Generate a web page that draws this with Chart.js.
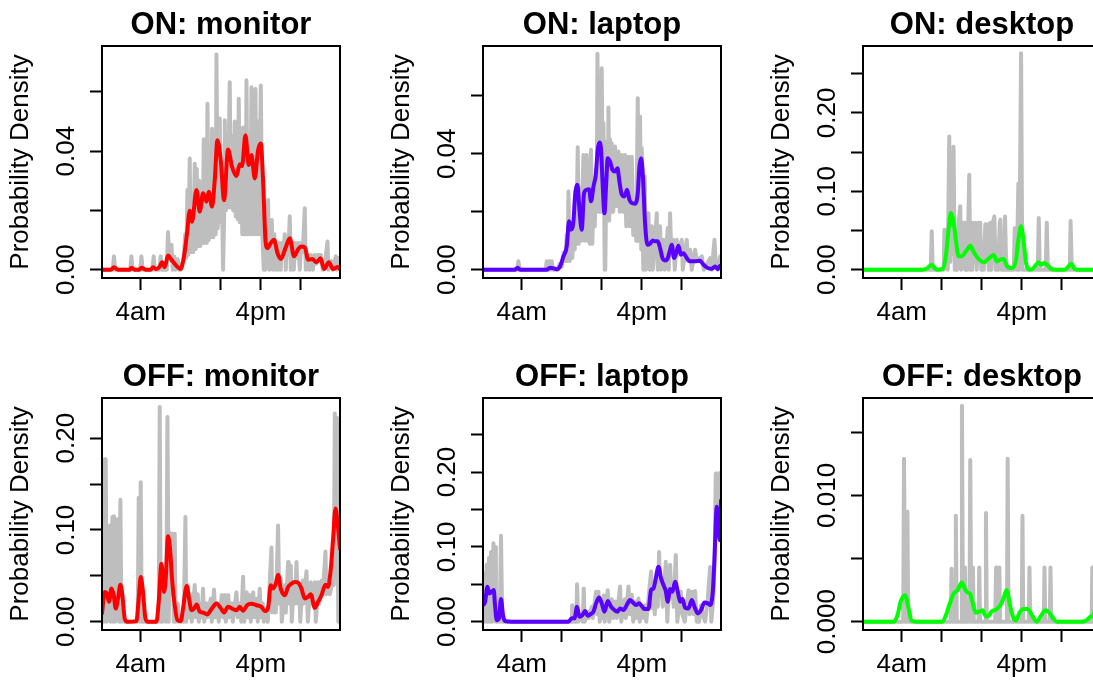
<!DOCTYPE html>
<html>
<head>
<meta charset="utf-8">
<script src="https://cdn.jsdelivr.net/npm/chart.js@4.4.1/dist/chart.umd.min.js"></script>
<style>
html, body { margin: 0; padding: 0; background: #fff; overflow: hidden; width: 1093px; height: 680px; }
.panel { position: absolute; width: 380px; height: 352px; }
</style>
</head>
<body>
<div class="panel" style="left:0;top:0"><canvas id="c0" width="380" height="352"></canvas></div>
<div class="panel" style="left:381px;top:0"><canvas id="c1" width="380" height="352"></canvas></div>
<div class="panel" style="left:761px;top:0"><canvas id="c2" width="380" height="352"></canvas></div>
<div class="panel" style="left:0;top:352px"><canvas id="c3" width="380" height="352"></canvas></div>
<div class="panel" style="left:381px;top:352px"><canvas id="c4" width="380" height="352"></canvas></div>
<div class="panel" style="left:761px;top:352px"><canvas id="c5" width="380" height="352"></canvas></div>
<script>
// hour of day on x, probability density on y
const hourTicks = [4, 8, 12, 16, 20];
const hourLabels = ['4am', '', '', '4pm', ''];

const smallTicks = [0, 0.02, 0.04, 0.06];
const smallLabels = ['0.00', '', '0.04', ''];
const wideTicks = [0, 0.05, 0.10, 0.15, 0.20, 0.25];
const wideLabels = ['0.00', '', '0.10', '', '0.20', ''];
const offMonTicks = [0, 0.05, 0.10, 0.15, 0.20];
const offMonLabels = ['0.00', '', '0.10', '', '0.20'];
const tinyTicks = [0, 0.005, 0.010, 0.015];
const tinyLabels = ['0.000', '', '0.010', ''];

// ---- ON: monitor
const onMonitorRaw = [[0.13,0],[1.2,0],[1.33,0.0045],[1.45,0],[2.95,0],[3.07,0.0045],[3.2,0],[3.95,0],[4.07,0.0045],[4.2,0],[5.15,0],[5.3,0.0045],[5.4,0],[5.85,0],[6.0,0.0045],[6.1,0],[6.6,0],[6.73,0.0127],[6.85,0.0045],[7.07,0.0084],[7.2,0],[7.35,0.0045],[7.5,0],[7.7,0.0035],[7.85,0],[8.0,0],
  [8.3,0.004],[8.45,0.012],[8.55,0.004],[8.67,0.027],[8.75,0.005],[8.9,0.0375],[9.0,0.006],[9.13,0.022],[9.25,0.006],[9.4,0.0358],[9.5,0.007],[9.6,0.034],[9.7,0.008],[9.85,0.03],[9.95,0.008],[10.1,0.025],[10.2,0.009],[10.3,0.044],[10.4,0.009],[10.5,0.03],[10.6,0.009],[10.67,0.056],[10.8,0.01],[10.95,0.035],[11.05,0.011],[11.13,0.0476],[11.25,0.011],[11.4,0.04],[11.5,0.012],[11.57,0.0726],[11.7,0.014],[11.8,0.035],[11.9,0.051],[12.0,0.016],[12.1,0.03],[12.23,0],
  [12.35,0.02],[12.4,0.0504],[12.5,0.02],[12.6,0.04],[12.7,0.021],[12.9,0.0633],[13.0,0.021],[13.15,0.045],[13.25,0.02],[13.4,0.05],[13.5,0.018],[13.65,0.04],[13.7,0.017],[13.8,0.0577],[13.9,0.016],[14.05,0.04],[14.15,0.012],[14.23,0.048],[14.35,0.012],[14.45,0.04],[14.5,0.012],[14.57,0.0639],[14.7,0.012],[14.85,0.045],[14.95,0.012],[15.07,0.0616],[15.2,0.012],[15.3,0.045],[15.4,0.012],[15.47,0.061],[15.6,0.012],[15.75,0.05],[15.85,0.012],[16.0,0.0622],[16.15,0.012],[16.3,0],
  [16.45,0],[16.6,0.015],[16.73,0.0235],[16.85,0],[17.0,0.012],[17.1,0.0168],[17.2,0],[17.35,0.012],[17.5,0],[17.6,0.008],[17.75,0],[17.9,0.009],[18.0,0],[18.1,0.009],[18.25,0.005],[18.4,0.012],[18.5,0],[18.6,0.009],[18.75,0.005],[18.9,0.018],[19.0,0],[19.15,0.009],[19.3,0],[19.45,0.009],[19.6,0.004],[19.75,0.009],[19.9,0],[20.05,0.009],[20.2,0.006],[20.4,0.0207],[20.5,0],[20.7,0.005],[20.85,0],[21.0,0.005],[21.2,0],[21.4,0.005],[21.55,0.002],[21.7,0.005],[22.0,0.005],[22.2,0],[22.4,0.002],[22.67,0.0095],[22.75,0],[23.0,0.003],[23.2,0],[23.5,0.0045],[23.6,0],[23.9,0.0045]];
const onMonitorDensity = [[0.13,0],[1.0,0],[1.33,0.0008],[1.73,0],[2.9,0],[3.07,0.0007],[3.4,0],[3.85,0],[4.07,0.0007],[4.5,0],[5.0,0],[5.23,0.0008],[5.57,0.0002],[5.9,0.0011],[6.13,0.0025],[6.4,0.0009],[6.73,0.0048],[7.07,0.0034],[7.57,0.0013],[7.97,0.0002],[8.33,0.0045],[8.63,0.0123],[8.9,0.0199],[9.13,0.0162],[9.57,0.0269],[9.9,0.0196],[10.23,0.0258],[10.57,0.023],[10.8,0.0263],[11.13,0.0213],[11.4,0.0302],[11.67,0.0437],[12.0,0.037],[12.33,0.0235],[12.73,0.0406],[13.13,0.0347],[13.57,0.0316],[13.9,0.0356],[14.13,0.035],[14.47,0.0454],[14.8,0.0353],[15.07,0.0387],[15.4,0.0308],[15.73,0.0403],[16.0,0.0426],[16.23,0.0302],[16.47,0.0101],[16.67,0.0073],[17.0,0.009],[17.33,0.0101],[17.67,0.0056],[18.0,0.0036],[18.47,0.0073],[18.9,0.0106],[19.33,0.0045],[19.73,0.0069],[20.07,0.0078],[20.4,0.0076],[20.73,0.0034],[21.13,0.0036],[21.57,0.0025],[21.97,0.0039],[22.33,0.0002],[22.8,0.0025],[23.23,0.0002],[23.67,0.0009],[23.92,0.0002]];

// ---- ON: laptop
const onLaptopRaw = [[0.13,0],[3.55,0],[3.67,0.0029],[3.8,0],[6.4,0],[6.5,0.0029],[6.6,0],[6.75,0.0029],[6.9,0],[7.0,0.0029],[7.1,0],[7.6,0],[7.8,0.002],[8.0,0.001],[8.2,0.006],[8.35,0.003],[8.5,0.012],[8.6,0.003],[8.67,0.027],[8.8,0.003],[8.95,0.0126],[9.05,0.004],[9.2,0.0126],[9.3,0.007],[9.33,0.027],[9.45,0.009],[9.6,0.0423],[9.7,0.009],[9.83,0.028],[9.95,0.01],[10.17,0.0396],[10.3,0.01],[10.5,0.0396],[10.6,0.01],[10.67,0.027],[10.8,0.009],[10.93,0.0414],[11.05,0.009],[11.17,0.022],[11.3,0.015],[11.45,0.035],[11.5,0.02],[11.57,0.0745],[11.7,0.02],[11.77,0.0598],[11.85,0.02],[12.0,0.0695],[12.1,0.02],[12.17,0.0506],[12.3,0],[12.35,0],
  [12.5,0.0442],[12.6,0.017],[12.67,0.056],[12.75,0.017],[12.83,0.045],[12.95,0.02],[13.0,0.0436],[13.15,0.02],[13.33,0.0425],[13.45,0.022],[13.67,0.0408],[13.8,0.02],[14.0,0.0396],[14.15,0.02],[14.33,0.0396],[14.45,0.015],[14.67,0.039],[14.8,0.015],[15.0,0.039],[15.15,0.012],[15.33,0.022],[15.45,0.01],[15.6,0.0592],[15.7,0.01],[15.83,0.0529],[15.95,0.007],[16.0,0.0419],[16.15,0],[16.3,0.0322],[16.4,0],
  [16.67,0.0195],[16.8,0],[17.0,0.015],[17.1,0],[17.5,0.0195],[17.6,0],[17.83,0.015],[17.95,0],[18.17,0.0103],[18.3,0],[18.6,0.0144],[18.7,0],[18.83,0.0195],[18.95,0.005],[19.17,0.0103],[19.3,0],[19.5,0.0103],[19.6,0.005],[20.0,0.0103],[20.1,0],[20.5,0.0103],[20.6,0.003],[20.83,0.0069],[21.0,0],[21.33,0.0069],[21.5,0.003],[22.0,0.0046],[22.2,0],[22.83,0.004],[23.0,0],[23.27,0.0103],[23.4,0.002],[23.6,0],[23.85,0.0046],[23.92,0]];
const onLaptopDensity = [[0.13,0],[3.33,0],[3.6,0.0007],[3.83,0],[6.5,0],[6.83,0.0007],[7.17,0.0005],[7.5,0.0002],[7.83,0.0011],[8.17,0.0046],[8.5,0.008],[8.73,0.0167],[8.93,0.0138],[9.17,0.0167],[9.33,0.0253],[9.57,0.0293],[9.77,0.0207],[10.0,0.0138],[10.23,0.0264],[10.5,0.0276],[10.73,0.0278],[10.93,0.0236],[11.17,0.0287],[11.4,0.0327],[11.6,0.0414],[11.77,0.0439],[11.93,0.0414],[12.1,0.0287],[12.27,0.0195],[12.43,0.0287],[12.6,0.0385],[12.83,0.0373],[13.07,0.0345],[13.33,0.0339],[13.57,0.035],[13.77,0.0304],[14.0,0.0259],[14.27,0.0253],[14.53,0.0276],[14.77,0.0241],[15.0,0.023],[15.33,0.0228],[15.6,0.0264],[15.77,0.0356],[15.93,0.0385],[16.1,0.0333],[16.33,0.0161],[16.57,0.0086],[16.83,0.009],[17.1,0.0101],[17.33,0.0098],[17.6,0.0098],[17.83,0.0075],[18.07,0.004],[18.33,0.0032],[18.6,0.004],[18.83,0.0069],[19.0,0.0086],[19.23,0.004],[19.43,0.0057],[19.67,0.0083],[19.9,0.0052],[20.17,0.0057],[20.5,0.004],[20.83,0.0029],[21.33,0.0029],[21.83,0.0031],[22.17,0.0017],[22.6,0.0006],[23.0,0.0003],[23.33,0.0011],[23.6,0.0002],[23.83,0.0014],[23.92,0.0005]];

// ---- ON: desktop
const onDesktopRaw = [[0.12,0],[6.9,0],[7.0,0.049],[7.1,0],[8.2,0],[8.27,0.051],[8.4,0.01],[8.5,0.051],[8.6,0],[8.75,0.17],[8.85,0.01],[8.98,0.149],[9.05,0.02],[9.18,0.157],[9.3,0],[9.45,0.03],[9.55,0],[9.7,0.06],[9.85,0.081],[9.95,0],[10.1,0.06],[10.25,0.0596],[10.35,0],[10.45,0.06],[10.55,0],[10.75,0.121],[10.85,0],[10.95,0.06],[11.05,0],[11.15,0.06],[11.25,0.01],[11.4,0.06],[11.5,0],[11.65,0.06],[11.85,0.06],[11.95,0],[12.1,0.03],[12.2,0],[12.36,0.058],[12.45,0.01],[12.6,0.058],[12.7,0],[12.85,0.06],[12.95,0],[13.1,0.06],[13.26,0.068],[13.4,0],[13.55,0.03],[13.65,0],[13.8,0.06],[13.86,0.064],[13.95,0],[14.1,0.04],[14.2,0],[14.33,0.068],[14.45,0],[15.2,0],[15.3,0.053],[15.4,0.053],[15.5,0],[15.66,0.11],[15.75,0],[15.93,0.276],[16.05,0],[17.6,0],[17.7,0.066],[17.8,0],[18.4,0],[18.5,0.06],[18.6,0],[20.8,0],[20.88,0.062],[21.0,0],[23.92,0]];
const onDesktopDensity = [[0.12,0],[6.07,0],[6.57,0.002],[6.97,0.0064],[7.24,0.003],[7.5,0],[8.08,0.001],[8.41,0.017],[8.68,0.051],[8.91,0.0723],[9.18,0.0617],[9.41,0.0383],[9.68,0.017],[9.98,0.017],[10.42,0.0234],[10.85,0.0306],[11.25,0.0213],[11.75,0.0128],[12.19,0.0094],[12.59,0.0128],[13.19,0.0187],[13.53,0.0106],[13.86,0.0128],[14.19,0.0136],[14.53,0.0043],[14.93,0.002],[15.43,0.0128],[15.66,0.0383],[15.93,0.0553],[16.17,0.0383],[16.43,0.0085],[16.77,0],[17.1,0.001],[17.44,0.0064],[17.67,0.0094],[17.94,0.0064],[18.27,0.0085],[18.54,0.0064],[18.94,0.001],[19.44,0],[20.28,0],[20.68,0.0043],[20.95,0.0077],[21.28,0.001],[21.61,0],[23.92,0]];

// ---- OFF: monitor
const offMonitorRaw = [[0.13,0.03],[0.2,0.047],[0.3,0],[0.4,0.177],[0.5,0.177],[0.6,0],[0.75,0.03],[0.93,0.105],[1.0,0],[1.1,0.06],[1.17,0.114],[1.25,0],[1.33,0.115],[1.45,0],[1.6,0.03],[1.73,0.112],[1.85,0],[1.97,0.133],[2.07,0],[2.23,0.011],[2.35,0],[3.7,0],[3.8,0.135],[3.9,0],[4.0,0.152],[4.1,0],[5.8,0],[5.9,0.234],[6.0,0],[6.1,0.04],[6.2,0],[6.45,0.05],[6.55,0],[6.67,0.223],[6.8,0],[6.9,0.097],[7.0,0.03],[7.2,0.096],[7.3,0],[7.4,0.096],[7.5,0],[7.7,0.02],[7.8,0],[8.3,0],[8.47,0.114],[8.55,0],
  [8.7,0.04],[8.8,0.005],[9.0,0.03],[9.1,0],[9.4,0.04],[9.5,0.005],[9.7,0.03],[9.8,0],[10.0,0.02],[10.1,0.005],[10.23,0.036],[10.35,0],[10.6,0.02],[10.7,0.005],[11.0,0.025],[11.1,0],[11.33,0.035],[11.45,0.005],[11.7,0.02],[11.8,0],[12.1,0.029],[12.25,0.005],[12.4,0.029],[12.5,0],[12.75,0.029],[12.85,0.005],[13.1,0.02],[13.2,0],[13.57,0.032],[13.7,0.005],[13.95,0.02],[14.05,0],[14.23,0.049],[14.35,0],[14.6,0.032],[14.7,0.005],[14.9,0.029],[15.0,0],[15.25,0.032],[15.35,0.005],[15.6,0.025],[15.7,0],[15.9,0.036],[16.0,0.005],[16.2,0.02],[16.3,0],[16.6,0.015],[16.7,0],
  [17.07,0.081],[17.15,0.01],[17.4,0.04],[17.5,0.01],[17.73,0.105],[17.85,0.02],[18.0,0.047],[18.1,0],[18.4,0.04],[18.5,0.01],[18.73,0.065],[18.8,0.02],[19.0,0.061],[19.1,0],[19.3,0.04],[19.4,0.02],[19.57,0.065],[19.7,0.02],[19.85,0.04],[19.95,0],[20.2,0.045],[20.3,0.02],[20.57,0.055],[20.7,0],[21.0,0.043],[21.1,0.02],[21.4,0.043],[21.5,0],[21.75,0.043],[21.85,0.02],[22.1,0.045],[22.2,0.03],[22.47,0.0765],[22.55,0.03],[22.8,0.04],[22.9,0.03],[23.1,0.04],[23.3,0.04],[23.4,0.227],[23.5,0.05],[23.63,0.222],[23.75,0],[23.92,0]];
const offMonitorDensity = [[0.13,0.009],[0.4,0.0325],[0.63,0.0307],[0.83,0.0217],[1.07,0.0361],[1.3,0.0289],[1.5,0.0144],[1.73,0.0253],[1.97,0.0404],[2.17,0.0289],[2.4,0.0036],[2.67,0],[3.57,0.0007],[3.8,0.0253],[4.0,0.0487],[4.23,0.0325],[4.47,0.0036],[4.73,0],[5.57,0],[5.8,0.0217],[6.07,0.0632],[6.33,0.0325],[6.5,0.047],[6.73,0.0931],[6.93,0.0794],[7.13,0.047],[7.4,0.018],[7.67,0.0018],[8.0,0.0007],[8.23,0.0144],[8.6,0.039],[8.83,0.0253],[9.07,0.0126],[9.33,0.0144],[9.6,0.0188],[9.9,0.0108],[10.23,0.0101],[10.63,0.0079],[11.07,0.0137],[11.57,0.0199],[11.97,0.0152],[12.33,0.0101],[12.73,0.0162],[13.13,0.0144],[13.57,0.0126],[13.9,0.0162],[14.23,0.0119],[14.63,0.018],[15.07,0.0195],[15.57,0.018],[16.07,0.0162],[16.4,0.0116],[16.73,0.0152],[17.0,0.0397],[17.23,0.0361],[17.5,0.0415],[17.73,0.0513],[18.0,0.0361],[18.4,0.0289],[18.73,0.0379],[19.07,0.0415],[19.4,0.0433],[19.73,0.0426],[20.07,0.0361],[20.4,0.0253],[20.73,0.0271],[21.0,0.03],[21.4,0.0152],[21.73,0.0217],[22.07,0.0289],[22.47,0.0404],[22.73,0.0379],[23.0,0.0578],[23.23,0.0903],[23.47,0.1235],[23.67,0.108],[23.92,0.0794]];

// ---- OFF: laptop
const offLaptopRaw = [[0.13,0.022],[0.25,0],[0.33,0.065],[0.42,0],[0.5,0.076],[0.6,0],[0.73,0.085],[0.82,0],[0.93,0.093],[1.05,0],[1.17,0.105],[1.25,0.03],[1.33,0.1],[1.42,0],[1.6,0],[1.67,0.031],[1.8,0],[1.93,0.115],[2.05,0],[9.0,0],[9.05,0.022],[9.2,0],[9.45,0],[9.53,0.05],[9.65,0],[9.95,0.01],[10.1,0],[10.2,0.0445],[10.3,0],[10.6,0.013],[10.7,0.005],[11.0,0.02],[11.1,0.005],[11.43,0.04],[11.55,0.01],[11.67,0.04],[11.8,0],[12.0,0.022],[12.1,0.005],[12.2,0.035],[12.3,0],[12.6,0.042],[12.75,0],[13.0,0.03],[13.15,0.005],[13.33,0.027],[13.5,0.005],[13.83,0.047],[13.95,0],[14.3,0.03],[14.4,0.005],[14.67,0.047],[14.8,0.01],[15.0,0.036],[15.15,0],[15.33,0.027],[15.45,0.005],[15.67,0.031],[15.8,0],[16.0,0.02],[16.2,0.005],[16.33,0.022],[16.45,0],
  [16.93,0.067],[17.05,0.018],[17.17,0.04],[17.3,0.01],[17.5,0.067],[17.6,0.02],[17.73,0.093],[17.85,0.04],[18.0,0.04],[18.1,0.02],[18.4,0.08],[18.55,0],[18.83,0.076],[18.95,0.04],[19.07,0.04],[19.2,0.02],[19.4,0.089],[19.55,0],[19.9,0.04],[20.05,0.01],[20.3,0],[20.67,0.042],[20.8,0.01],[21.0,0.04],[21.2,0.01],[21.33,0.041],[21.5,0],[21.73,0],[21.93,0.022],[22.1,0.01],[22.33,0],[22.6,0.03],[22.83,0.073],[22.95,0],[23.15,0.03],[23.27,0.076],[23.4,0.198],[23.55,0.198],[23.67,0.12],[23.8,0.198],[23.92,0.2]];
const offLaptopDensity = [[0.13,0.0223],[0.33,0.026],[0.57,0.0467],[0.77,0.0378],[1.0,0.04],[1.2,0.0423],[1.33,0.0223],[1.5,0.002],[1.73,0.0045],[1.93,0.0303],[2.13,0.0089],[2.33,0.0009],[3.0,0],[8.67,0],[9.0,0.0045],[9.27,0.0045],[9.53,0.02],[9.77,0.0067],[10.07,0.0089],[10.33,0.0142],[10.6,0.008],[10.83,0.0098],[11.17,0.0134],[11.43,0.0245],[11.73,0.0325],[12.0,0.0245],[12.27,0.0134],[12.6,0.0276],[12.93,0.02],[13.27,0.0156],[13.57,0.0134],[13.83,0.0178],[14.17,0.0156],[14.5,0.0223],[14.83,0.0289],[15.1,0.0258],[15.43,0.0223],[15.73,0.0245],[16.0,0.0209],[16.27,0.0169],[16.67,0.0169],[16.93,0.0423],[17.17,0.0445],[17.4,0.0579],[17.67,0.0734],[17.93,0.0579],[18.17,0.049],[18.4,0.041],[18.6,0.0267],[18.83,0.0436],[19.07,0.04],[19.33,0.0534],[19.6,0.04],[19.83,0.0267],[20.07,0.0302],[20.33,0.0187],[20.67,0.0178],[21.0,0.0289],[21.33,0.0178],[21.6,0.0111],[21.93,0.0156],[22.27,0.0258],[22.6,0.0245],[22.83,0.0223],[23.1,0.04],[23.27,0.0846],[23.5,0.1535],[23.67,0.129],[23.8,0.109],[23.92,0.162]];

// ---- OFF: desktop
const offDesktopRaw = [[0.12,0],[4.15,0],[4.23,0.0129],[4.35,0],[4.5,0],[4.57,0.0087],[4.65,0],[8.9,0],[8.98,0.0042],[9.08,0],[9.33,0],[9.41,0.0084],[9.5,0],[9.95,0],[10.02,0.0171],[10.12,0],[10.25,0],[10.32,0.0043],[10.42,0],[10.78,0],[10.85,0.0128],[10.95,0],[11.05,0],[11.12,0.0043],[11.2,0],[11.68,0],[11.75,0.0043],[11.83,0],[12.35,0],[12.42,0.0086],[12.5,0],[13.35,0],[13.43,0.0043],[13.5,0],[13.7,0],[13.76,0.0043],[13.83,0],[14.52,0],[14.59,0.0129],[14.67,0],[16.0,0],[16.07,0.0084],[16.15,0],[16.7,0],[16.77,0.0043],[16.85,0],[18.2,0],[18.27,0.0043],[18.35,0],[18.8,0],[18.87,0.0043],[18.95,0],[22.98,0],[23.05,0.0043],[23.12,0],[23.92,0]];
const offDesktopDensity = [[0.12,0],[3.23,0],[3.57,0.0005],[3.9,0.0016],[4.33,0.0021],[4.67,0.0011],[4.97,0.0001],[5.4,0],[8.08,0],[8.41,0.0005],[8.75,0.0013],[9.18,0.0022],[9.58,0.0025],[10.02,0.0031],[10.32,0.0026],[10.58,0.0023],[10.85,0.0022],[11.09,0.0015],[11.42,0.0007],[11.75,0.0008],[12.09,0.0009],[12.32,0.0005],[12.59,0.0004],[12.99,0.0008],[13.49,0.001],[13.86,0.0013],[14.16,0.0018],[14.49,0.0025],[14.83,0.0013],[15.16,0.0003],[15.43,0.0001],[15.76,0.0007],[16.17,0.001],[16.6,0.001],[17.03,0.0005],[17.5,0],[17.94,0.0005],[18.37,0.0009],[18.77,0.0007],[19.11,0.0003],[19.54,0],[21.95,0],[22.45,0.0001],[22.88,0.0004],[23.12,0.0005],[23.5,0.0012],[23.92,0.0006]];

const RED = '#ff0000', PURPLE = '#5a00ff', GREEN = '#00ff00', GREY = '#bebebe';
const FONT = '"Liberation Sans", Arial, Helvetica, sans-serif';

const panels = [
  { id: 'c0', title: 'ON: monitor', raw: onMonitorRaw, dens: onMonitorDensity, color: RED, yMin: -0.0028, yMax: 0.0755, yTicks: smallTicks, yLabels: smallLabels },
  { id: 'c1', title: 'ON: laptop', raw: onLaptopRaw, dens: onLaptopDensity, color: PURPLE, yMin: -0.00286, yMax: 0.0772, yTicks: smallTicks, yLabels: smallLabels },
  { id: 'c2', title: 'ON: desktop', raw: onDesktopRaw, dens: onDesktopDensity, color: GREEN, yMin: -0.0106, yMax: 0.2854, yTicks: wideTicks, yLabels: wideLabels },
  { id: 'c3', title: 'OFF: monitor', raw: offMonitorRaw, dens: offMonitorDensity, color: RED, yMin: -0.009, yMax: 0.2438, yTicks: offMonTicks, yLabels: offMonLabels },
  { id: 'c4', title: 'OFF: laptop', raw: offLaptopRaw, dens: offLaptopDensity, color: PURPLE, yMin: -0.0111, yMax: 0.299, yTicks: wideTicks, yLabels: wideLabels },
  { id: 'c5', title: 'OFF: desktop', raw: offDesktopRaw, dens: offDesktopDensity, color: GREEN, yMin: -0.00066, yMax: 0.01772, yTicks: tinyTicks, yLabels: tinyLabels }
];

const toPoints = arr => arr.map(([x, y]) => ({ x, y }));

// R-style frame: box, rotated y labels, title, axis label
function rFrame(p) {
  return {
    id: 'rFrame',
    afterDraw(chart) {
      const { ctx, chartArea: a, scales: { x, y } } = chart;
      ctx.save();
      ctx.strokeStyle = '#000';
      ctx.lineWidth = 2;
      ctx.strokeRect(a.left, a.top, a.right - a.left, a.bottom - a.top);
      ctx.fillStyle = '#000';
      ctx.textAlign = 'center';
      ctx.textBaseline = 'alphabetic';
      ctx.font = 'bold 31px ' + FONT;
      ctx.fillText(p.title, (a.left + a.right) / 2, 34);
      ctx.font = '26px ' + FONT;
      hourTicks.forEach((h, i) => {
        if (hourLabels[i]) ctx.fillText(hourLabels[i], x.getPixelForValue(h), a.bottom + 42);
      });
      p.yTicks.forEach((v, i) => {
        if (!p.yLabels[i]) return;
        ctx.save();
        ctx.translate(74, y.getPixelForValue(v));
        ctx.rotate(-Math.PI / 2);
        ctx.fillText(p.yLabels[i], 0, 0);
        ctx.restore();
      });
      ctx.translate(28, (a.top + a.bottom) / 2);
      ctx.rotate(-Math.PI / 2);
      ctx.fillText('Probability Density', 0, 0);
      ctx.restore();
    }
  };
}

const tickGrid = { drawOnChartArea: false, drawTicks: true, tickLength: 12, tickWidth: 2, tickColor: '#000' };

panels.forEach(p => {
  new Chart(document.getElementById(p.id), {
    type: 'line',
    data: {
      datasets: [
        { data: toPoints(p.dens), borderColor: p.color, borderWidth: 4, pointRadius: 0,
          cubicInterpolationMode: 'monotone', borderJoinStyle: 'round', borderCapStyle: 'round', clip: 0 },
        { data: toPoints(p.raw), borderColor: GREY, borderWidth: 4, pointRadius: 0,
          tension: 0, borderJoinStyle: 'round', borderCapStyle: 'butt', clip: 0 }
      ]
    },
    options: {
      responsive: false,
      animation: false,
      events: [],
      layout: { padding: { top: 46, right: 40, left: 0, bottom: 0 } },
      plugins: { legend: { display: false }, tooltip: { enabled: false }, title: { display: false } },
      scales: {
        x: {
          type: 'linear', min: 0.13, max: 23.92,
          afterBuildTicks: s => { s.ticks = hourTicks.map(v => ({ value: v })); },
          afterFit: s => { s.height = 74; },
          ticks: { display: false },
          grid: tickGrid,
          border: { display: false }
        },
        y: {
          type: 'linear', min: p.yMin, max: p.yMax,
          afterBuildTicks: s => { s.ticks = p.yTicks.map(v => ({ value: v })); },
          afterFit: s => { s.width = 102; },
          ticks: { display: false },
          grid: tickGrid,
          border: { display: false }
        }
      }
    },
    plugins: [rFrame(p)]
  });
});
</script>
</body>
</html>
